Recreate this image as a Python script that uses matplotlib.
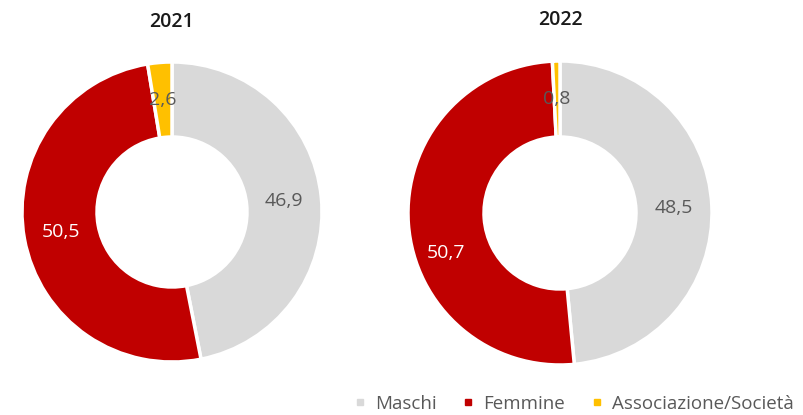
import matplotlib.pyplot as plt
from matplotlib.lines import Line2D

# Dati (percentuali)
categorie = ['Maschi', 'Femmine', 'Associazione/Società']
valori_2021 = [46.9, 50.5, 2.6]
valori_2022 = [48.5, 50.7, 0.8]
anni = ['2021', '2022']

colori = ['#D9D9D9', '#C00000', '#FFC000']
colori_testo = ['#595959', 'white', '#595959']

plt.rcParams['font.family'] = ['Open Sans', 'DejaVu Sans']

W, H = 804, 415
fig = plt.figure(figsize=(W / 100, H / 100), dpi=100)


def donut(cx, cy, r, valori, titolo, ty):
    # cx, cy in pixel dall'alto a sinistra
    ax = fig.add_axes([(cx - r) / W, (H - cy - r) / H, 2 * r / W, 2 * r / H])
    wedges, testi, autotesti = ax.pie(
        valori, colors=colori, startangle=90, counterclock=False,
        wedgeprops=dict(width=0.5, edgecolor='white', linewidth=2.5),
        autopct=lambda p: f"{p:.1f}".replace('.', ','), pctdistance=0.75,
        textprops=dict(fontsize=14))
    for t, c in zip(autotesti, colori_testo):
        t.set_color(c)
    ax.set_xlim(-1, 1)
    ax.set_ylim(-1, 1)
    ax.set_aspect('equal')
    ax.axis('off')
    fig.text(cx / W, 1 - ty / H, titolo, ha='center', va='center',
             fontsize=14, fontweight='semibold', color='#1a1a1a')
    return autotesti


donut(172, 212, 150, valori_2021, anni[0], 22)
t22 = donut(560, 213, 152, valori_2022, anni[1], 20)
# etichetta Femmine 2022 spostata più in basso, come nell'originale
t22[1].set_position((-0.75, -0.26))

handles = [Line2D([], [], marker='s', linestyle='', markersize=5,
                  markerfacecolor=c, markeredgecolor=c) for c in colori]
fig.legend(handles, categorie, loc='center right', bbox_to_anchor=(803 / W, 1 - 404 / H),
           ncol=3, frameon=False, fontsize=13.5, handletextpad=0.2, handlelength=1.2,
           columnspacing=1.1, labelcolor='#595959', borderpad=0)

fig.savefig('out.png', dpi=100)
